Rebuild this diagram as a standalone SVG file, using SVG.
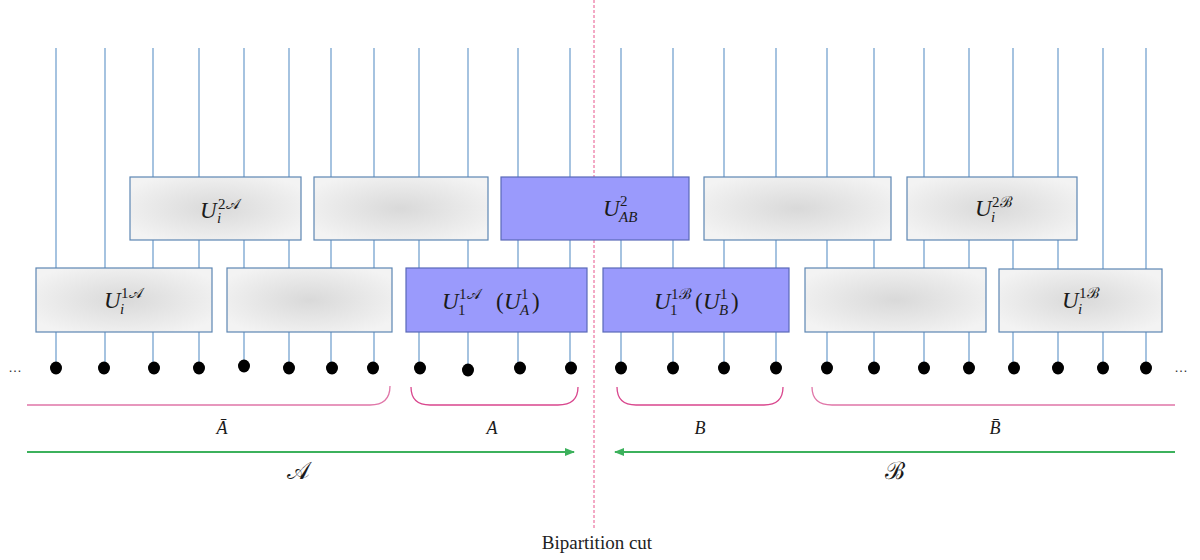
<svg xmlns="http://www.w3.org/2000/svg" width="1200" height="560" viewBox="0 0 1200 560">
<defs>
<radialGradient id="gray" cx="0.5" cy="0.5" r="0.6">
<stop offset="0" stop-color="#d9d9d9"/>
<stop offset="1" stop-color="#f3f3f3"/>
</radialGradient>
<marker id="ah" markerWidth="10" markerHeight="8" refX="9" refY="4" orient="auto" markerUnits="userSpaceOnUse">
<path d="M0,0 L10,4 L0,8 z" fill="#3cb15c"/>
</marker>
</defs>
<style>
.wire{stroke:#6a9bcb;stroke-width:1.2;fill:none}
.g{fill:url(#gray);stroke:#5d86b3;stroke-width:1.2}
.b{fill:#9a9afc;stroke:#5a69b8;stroke-width:1.2}
.m{font-family:"Liberation Serif","DejaVu Serif",serif;font-style:italic;fill:#1a1a1a}
.n{font-style:normal}
.u{font-size:23px}
.s{font-size:15px}
.dot{fill:#000}
.br{fill:none;stroke:#d9468d;stroke-width:1.3}
.br2{fill:none;stroke:#e076a8;stroke-width:1.3}
.arr{stroke:#3cb15c;stroke-width:2;fill:none}
.dots{font-family:"Liberation Sans",sans-serif;font-size:14px;fill:#333}
</style>
<g id="connectors">
<g id="wires">
<line class="wire" x1="56" y1="48" x2="56" y2="368"/>
<line class="wire" x1="105" y1="48" x2="105" y2="368"/>
<line class="wire" x1="153" y1="48" x2="153" y2="368"/>
<line class="wire" x1="199" y1="48" x2="199" y2="368"/>
<line class="wire" x1="244" y1="48" x2="244" y2="366"/>
<line class="wire" x1="289" y1="48" x2="289" y2="368"/>
<line class="wire" x1="331" y1="48" x2="331" y2="368"/>
<line class="wire" x1="374" y1="48" x2="374" y2="368"/>
<line class="wire" x1="419" y1="48" x2="419" y2="368"/>
<line class="wire" x1="468" y1="48" x2="468" y2="370"/>
<line class="wire" x1="518" y1="48" x2="518" y2="368"/>
<line class="wire" x1="570" y1="48" x2="570" y2="368"/>
<line class="wire" x1="621" y1="48" x2="621" y2="368"/>
<line class="wire" x1="673" y1="48" x2="673" y2="368"/>
<line class="wire" x1="724" y1="48" x2="724" y2="368"/>
<line class="wire" x1="776" y1="48" x2="776" y2="368"/>
<line class="wire" x1="827" y1="48" x2="827" y2="368"/>
<line class="wire" x1="874" y1="48" x2="874" y2="368"/>
<line class="wire" x1="924" y1="48" x2="924" y2="368"/>
<line class="wire" x1="969" y1="48" x2="969" y2="368"/>
<line class="wire" x1="1013" y1="48" x2="1013" y2="368"/>
<line class="wire" x1="1058" y1="48" x2="1058" y2="368"/>
<line class="wire" x1="1103" y1="48" x2="1103" y2="368"/>
<line class="wire" x1="1146" y1="48" x2="1146" y2="368"/>
</g>
<line id="cut" x1="594" y1="0" x2="594" y2="530" stroke="#e8548c" stroke-width="1" stroke-dasharray="3,2"/>
<line id="arrowA" class="arr" x1="27" y1="452" x2="574" y2="452" marker-end="url(#ah)"/>
<line id="arrowB" class="arr" x1="1175" y1="452" x2="615" y2="452" marker-end="url(#ah)"/>
</g>
<g id="U2A">
<rect class="g" x="130" y="177" width="171" height="63"/>
<text class="m u" x="200" y="218">U</text>
<text class="m s n" x="218" y="209">2𝒜</text>
<text class="m s" x="217" y="223">i</text>
</g>
<g id="G2a"><rect class="g" x="314" y="177" width="174" height="63"/></g>
<g id="U2AB">
<rect class="b" x="501" y="177" width="188" height="63"/>
<text class="m u" x="603" y="216">U</text>
<text class="m s n" x="620" y="206">2</text>
<text class="m s" x="619" y="222">AB</text>
</g>
<g id="G2b"><rect class="g" x="704" y="177" width="187" height="63"/></g>
<g id="U2B">
<rect class="g" x="907" y="177" width="170" height="63"/>
<text class="m u" x="975" y="216">U</text>
<text class="m s n" x="992" y="207">2ℬ</text>
<text class="m s" x="991" y="222">i</text>
</g>
<g id="U1A">
<rect class="g" x="36" y="268" width="176" height="64"/>
<text class="m u" x="104" y="308">U</text>
<text class="m s n" x="121" y="298">1𝒜</text>
<text class="m s" x="120" y="314">i</text>
</g>
<g id="G1a"><rect class="g" x="227" y="268" width="165" height="64"/></g>
<g id="U11A">
<rect class="b" x="406" y="268" width="181" height="64"/>
<text class="m u" x="442" y="309">U</text>
<text class="m s n" x="459" y="299">1𝒜</text>
<text class="m s n" x="458" y="315">1</text>
<text class="m u n" x="496" y="309">(</text>
<text class="m u" x="504" y="309">U</text>
<text class="m s n" x="521" y="299">1</text>
<text class="m s" x="520" y="315">A</text>
<text class="m u n" x="532" y="309">)</text>
</g>
<g id="U11B">
<rect class="b" x="603" y="268" width="186" height="64"/>
<text class="m u" x="654" y="309">U</text>
<text class="m s n" x="671" y="299">1ℬ</text>
<text class="m s n" x="670" y="315">1</text>
<text class="m u n" x="695" y="309">(</text>
<text class="m u" x="703" y="309">U</text>
<text class="m s n" x="720" y="299">1</text>
<text class="m s" x="719" y="315">B</text>
<text class="m u n" x="731" y="309">)</text>
</g>
<g id="G1b"><rect class="g" x="805" y="268" width="181" height="64"/></g>
<g id="U1B">
<rect class="g" x="999" y="269" width="163" height="63"/>
<text class="m u" x="1062" y="308">U</text>
<text class="m s n" x="1079" y="298">1ℬ</text>
<text class="m s" x="1078" y="314">i</text>
</g>
<g id="sites">
<text class="dots" x="8" y="372">…</text>
<ellipse class="dot" cx="56" cy="368" rx="6" ry="6.5"/>
<ellipse class="dot" cx="104" cy="368" rx="6" ry="6.5"/>
<ellipse class="dot" cx="154" cy="368" rx="6" ry="6.5"/>
<ellipse class="dot" cx="199" cy="368" rx="6" ry="6.5"/>
<ellipse class="dot" cx="244" cy="366" rx="6" ry="6.5"/>
<ellipse class="dot" cx="289" cy="368" rx="6" ry="6.5"/>
<ellipse class="dot" cx="332" cy="368" rx="6" ry="6.5"/>
<ellipse class="dot" cx="373" cy="368" rx="6" ry="6.5"/>
<ellipse class="dot" cx="420" cy="368" rx="6" ry="6.5"/>
<ellipse class="dot" cx="468" cy="370" rx="6" ry="6.5"/>
<ellipse class="dot" cx="520" cy="368" rx="6" ry="6.5"/>
<ellipse class="dot" cx="571" cy="368" rx="6" ry="6.5"/>
<ellipse class="dot" cx="621" cy="368" rx="6" ry="6.5"/>
<ellipse class="dot" cx="673" cy="368" rx="6" ry="6.5"/>
<ellipse class="dot" cx="724" cy="368" rx="6" ry="6.5"/>
<ellipse class="dot" cx="776" cy="368" rx="6" ry="6.5"/>
<ellipse class="dot" cx="827" cy="368" rx="6" ry="6.5"/>
<ellipse class="dot" cx="874" cy="368" rx="6" ry="6.5"/>
<ellipse class="dot" cx="924" cy="368" rx="6" ry="6.5"/>
<ellipse class="dot" cx="969" cy="368" rx="6" ry="6.5"/>
<ellipse class="dot" cx="1014" cy="368" rx="6" ry="6.5"/>
<ellipse class="dot" cx="1058" cy="368" rx="6" ry="6.5"/>
<ellipse class="dot" cx="1103" cy="368" rx="6" ry="6.5"/>
<ellipse class="dot" cx="1146" cy="368" rx="6" ry="6.5"/>
<text class="dots" x="1174" y="372">…</text>
</g>
<g id="partitions">
<path class="br2" d="M27,405 H370 Q390,405 390,386"/>
<path class="br" d="M411,387 Q411,405 430,405 H558 Q578,405 578,387"/>
<path class="br" d="M617,387 Q617,405 636,405 H764 Q783,405 783,387"/>
<path class="br2" d="M812,387 Q812,405 832,405 H1175"/>
<text class="m" font-size="18" x="222" y="434" text-anchor="middle">Ā</text>
<text class="m" font-size="18" x="492" y="434" text-anchor="middle">A</text>
<text class="m" font-size="18" x="700" y="434" text-anchor="middle">B</text>
<text class="m" font-size="18" x="995" y="434" text-anchor="middle">B̄</text>
<text class="m n" font-size="24" x="298" y="479" text-anchor="middle">𝒜</text>
<text class="m n" font-size="24" x="895" y="479" text-anchor="middle">ℬ</text>
</g>
<text x="597" y="549" text-anchor="middle" font-family="Liberation Serif, serif" font-size="19" fill="#222">Bipartition cut</text>
</svg>
